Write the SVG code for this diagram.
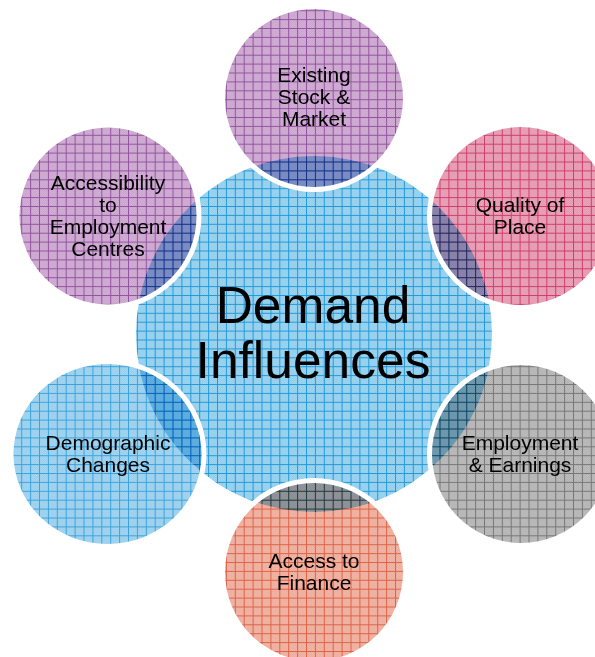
<svg xmlns="http://www.w3.org/2000/svg" width="595" height="657" viewBox="0 0 595 657">
<style>
.ring{fill:none;stroke:#ffffff;stroke-width:5}
.sat{mix-blend-mode:multiply;opacity:0.8}
.lbl{font-family:"Liberation Sans",Arial,sans-serif;font-size:21px;fill:#000;text-anchor:middle}
.big{font-family:"Liberation Sans",Arial,sans-serif;font-size:51.5px;fill:#000;text-anchor:middle}
</style>
<defs>
<pattern id="chk" width="2" height="2" patternUnits="userSpaceOnUse">
<rect width="1" height="1" fill="#ffffff" fill-opacity="0.25"/>
<rect x="1" y="1" width="1" height="1" fill="#ffffff" fill-opacity="0.25"/>
</pattern>
<pattern id="gBlue" x="3.4" y="1.3" width="8.9" height="8.9" patternUnits="userSpaceOnUse">
<rect width="8.9" height="8.9" fill="#88cbec"/>
<rect width="8.9" height="8.9" fill="url(#chk)"/>
<path d="M0 0.5H8.9M0.5 0V8.9" stroke="#2599d7" stroke-width="1"/>
</pattern>
<pattern id="gBlueS" x="3.4" y="1.3" width="8.9" height="8.9" patternUnits="userSpaceOnUse">
<rect width="8.9" height="8.9" fill="#74bfe8"/>
<rect width="8.9" height="8.9" fill="url(#chk)"/>
<path d="M0 0.5H8.9M0.5 0V8.9" stroke="#0e8bd0" stroke-width="1"/>
</pattern>
<pattern id="gPurple" x="3.4" y="1.3" width="8.9" height="8.9" patternUnits="userSpaceOnUse">
<rect width="8.9" height="8.9" fill="#b985be"/>
<rect width="8.9" height="8.9" fill="url(#chk)"/>
<path d="M0 0.5H8.9M0.5 0V8.9" stroke="#772a88" stroke-width="1"/>
</pattern>
<pattern id="gPink" x="3.4" y="1.3" width="8.9" height="8.9" patternUnits="userSpaceOnUse">
<rect width="8.9" height="8.9" fill="#de7496"/>
<rect width="8.9" height="8.9" fill="url(#chk)"/>
<path d="M0 0.5H8.9M0.5 0V8.9" stroke="#bf0f47" stroke-width="1"/>
</pattern>
<pattern id="gGray" x="3.4" y="1.3" width="8.9" height="8.9" patternUnits="userSpaceOnUse">
<rect width="8.9" height="8.9" fill="#999999"/>
<rect width="8.9" height="8.9" fill="url(#chk)"/>
<path d="M0 0.5H8.9M0.5 0V8.9" stroke="#555555" stroke-width="1"/>
</pattern>
<pattern id="gOrange" x="3.4" y="1.3" width="8.9" height="8.9" patternUnits="userSpaceOnUse">
<rect width="8.9" height="8.9" fill="#e98f79"/>
<rect width="8.9" height="8.9" fill="url(#chk)"/>
<path d="M0 0.5H8.9M0.5 0V8.9" stroke="#d23e1a" stroke-width="1"/>
</pattern>
</defs>
<rect width="595" height="657" fill="#ffffff"/>
<g id="connectors"/>
<g id="n-demand">
<circle cx="314" cy="334" r="178" fill="url(#gBlue)"/>
<text class="big" x="313" y="323">Demand</text>
<text class="big" x="313" y="378">Influences</text>
</g>
<g id="n-existing">
<circle class="ring" cx="314" cy="98" r="91.5"/>
<circle class="sat" cx="314" cy="98" r="89" fill="url(#gPurple)"/>
<text class="lbl" x="314" y="82">Existing</text>
<text class="lbl" x="314" y="104">Stock &amp;</text>
<text class="lbl" x="314" y="126">Market</text>
</g>
<g id="n-quality">
<circle class="ring" cx="521" cy="216" r="91.5"/>
<circle class="sat" cx="521" cy="216" r="89" fill="url(#gPink)"/>
<text class="lbl" x="520" y="212">Quality of</text>
<text class="lbl" x="520" y="234">Place</text>
</g>
<g id="n-employment">
<circle class="ring" cx="521" cy="454" r="91.5"/>
<circle class="sat" cx="521" cy="454" r="89" fill="url(#gGray)"/>
<text class="lbl" x="520" y="450">Employment</text>
<text class="lbl" x="520" y="472">&amp; Earnings</text>
</g>
<g id="n-finance">
<circle class="ring" cx="314" cy="572" r="91.5"/>
<circle class="sat" cx="314" cy="572" r="89" fill="url(#gOrange)"/>
<text class="lbl" x="314" y="568">Access to</text>
<text class="lbl" x="314" y="590">Finance</text>
</g>
<g id="n-demographic">
<ellipse class="ring" cx="107.5" cy="454" rx="96.5" ry="92.5"/>
<ellipse class="sat" cx="107.5" cy="454" rx="94" ry="90" fill="url(#gBlueS)"/>
<text class="lbl" x="108" y="450">Demographic</text>
<text class="lbl" x="108" y="472">Changes</text>
</g>
<g id="n-accessibility">
<circle class="ring" cx="108" cy="216" r="91"/>
<circle class="sat" cx="108" cy="216" r="88.5" fill="url(#gPurple)"/>
<text class="lbl" x="108" y="190">Accessibility</text>
<text class="lbl" x="108" y="212">to</text>
<text class="lbl" x="108" y="234">Employment</text>
<text class="lbl" x="108" y="256">Centres</text>
</g>
</svg>
